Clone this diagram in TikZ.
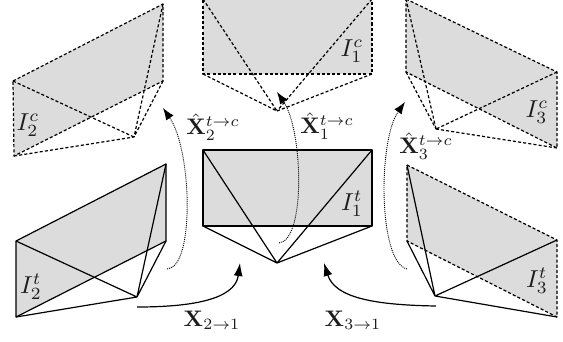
\documentclass[tikz,border=0pt]{standalone}
\usepackage{amsmath}
\usetikzlibrary{arrows.meta}
\definecolor{pane}{HTML}{DCDCDC}
\definecolor{lbl}{HTML}{1C1C1C}
\tikzset{
  x=1pt,y=-1pt,
  pane/.style={fill=pane,draw=none},
  solidline/.style={draw=black,line width=1.2pt,line join=round},
  dashline/.style={draw=black,line width=1.2pt,dash pattern=on 3.1pt off 2.1pt,line join=round},
  dotarrow/.style={draw=black,line width=0.9pt,dash pattern=on 1pt off 1pt,-{Latex[length=12pt,width=9pt]}},
  bigarrow/.style={draw=black,line width=1.2pt,-{Latex[length=13pt,width=9pt]}},
  lab/.style={inner sep=0pt,scale=2.45,text=lbl,anchor=center},
  boldlab/.style={inner sep=0pt,scale=2.25,text=lbl,anchor=center},
}
\begin{document}
\begin{tikzpicture}
\useasboundingbox (0,0) rectangle (563,341);
\clip (0,0) rectangle (563,341);
% ---------- camera views (top row)
\coordinate (a1) at (13,81); \coordinate (a2) at (163,4); \coordinate (a3) at (163,81); \coordinate (a4) at (14,156); \coordinate (a5) at (134,137);
\coordinate (b1) at (203,-1); \coordinate (b2) at (372,-1); \coordinate (b3) at (372,74); \coordinate (b4) at (203,74); \coordinate (b5) at (277,111);
\coordinate (c1) at (406,-1); \coordinate (c2) at (557,72); \coordinate (c3) at (557,148); \coordinate (c4) at (406,72); \coordinate (c5) at (436,129);
% ---------- target views (bottom row)
\coordinate (d1) at (16,241); \coordinate (d2) at (166,164); \coordinate (d3) at (166,241); \coordinate (d4) at (16,317); \coordinate (d5) at (137,297);
\coordinate (e1) at (203,150); \coordinate (e2) at (372,150); \coordinate (e3) at (372,226); \coordinate (e4) at (203,226); \coordinate (e5) at (277,263);
\coordinate (f1) at (407,165); \coordinate (f2) at (557,240); \coordinate (f3) at (557,317); \coordinate (f4) at (407,241); \coordinate (f5) at (435,296);
\foreach \n in {a,b,c,d,e,f} \path[pane] (\n1) -- (\n2) -- (\n3) -- (\n4) -- cycle;
\foreach \n in {a,b,c} {
  \draw[dashline] (\n1) -- (\n2) -- (\n3) -- (\n4) -- cycle;
  \draw[dashline] (\n1) -- (\n5) (\n2) -- (\n5) (\n3) -- (\n5) (\n4) -- (\n5);
}
\foreach \n in {d,e} {
  \draw[solidline] (\n1) -- (\n2) -- (\n3) -- (\n4) -- cycle;
  \draw[solidline] (\n1) -- (\n5) (\n2) -- (\n5) (\n3) -- (\n5) (\n4) -- (\n5);
}
\draw[dashline] (f1) -- (f2) -- (f3) -- (f4) -- cycle;
\draw[solidline] (f1) -- (f5) (f2) -- (f5) (f3) -- (f5) (f4) -- (f5);
% ---------- labels
\node[lab] (i2c) at (28,125) {$I_2^c$};
\node[lab] (i1c) at (352,51) {$I_1^c$};
\node[lab] (i3c) at (537,112) {$I_3^c$};
\node[lab] (i2t) at (31,287) {$I_2^t$};
\node[lab] (i1t) at (352,204) {$I_1^t$};
\node[lab] (i3t) at (537,281) {$I_3^t$};
\node[boldlab] (hx2) at (213,127) {$\hat{\mathbf{X}}_2^{t\to c}$};
\node[boldlab] (hx1) at (327,126) {$\hat{\mathbf{X}}_1^{t\to c}$};
\node[boldlab] (hx3) at (426,146) {$\hat{\mathbf{X}}_3^{t\to c}$};
\node[boldlab] (x21) at (212,320) {$\mathbf{X}_{2\to1}$};
\node[boldlab] (x31) at (353,320) {$\mathbf{X}_{3\to1}$};
% ---------- arrows
\coordinate (s2) at (167,269); \coordinate (t2) at (163,108);
\coordinate (s1) at (279,243); \coordinate (t1) at (277,92);
\coordinate (s3) at (407,269); \coordinate (t3) at (405,102);
\draw[dotarrow] (s2) .. controls (195,268) and (192,150) .. (t2);
\draw[dotarrow] (s1) .. controls (306,240) and (303,130) .. (t1);
\draw[dotarrow] (s3) .. controls (378,262) and (378,140) .. (t3);
\coordinate (u2) at (137,307); \coordinate (v2) at (240,263);
\coordinate (u3) at (436,306); \coordinate (v3) at (324,263);
\draw[bigarrow] (u2) .. controls (190,307) and (235,300) .. (v2);
\draw[bigarrow] (u3) .. controls (375,305) and (335,298) .. (v3);
\end{tikzpicture}
\end{document}
